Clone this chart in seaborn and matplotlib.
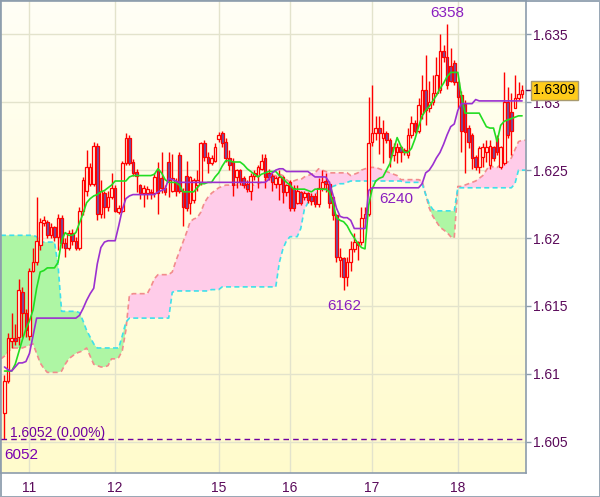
import numpy as np
import pandas as pd
import matplotlib
matplotlib.use("Agg")
import matplotlib.pyplot as plt
import matplotlib.transforms as mtransforms
from matplotlib.colors import LinearSegmentedColormap
import seaborn as sns

# ---------------- data (hourly bars) ----------------
open_ = [1.6071,1.6095,1.6124,1.6126,1.6127,1.6160,1.6145,1.6128,1.6176,1.6182,
         1.6195,1.6211,1.6212,1.6202,1.6208,1.6201,1.6215,1.6196,1.6193,1.6204,
         1.6198,1.6193,1.6220,1.6235,1.6240,1.6240,1.6268,1.6218,1.6233,1.6223,
         1.6230,1.6237,1.6219,1.6220,1.6255,1.6274,1.6256,1.6249,1.6239,1.6233,
         1.6233,1.6233,1.6233,1.6250,1.6244,1.6237,1.6256,1.6235,1.6241,1.6261,
         1.6235,1.6246,1.6226,1.6228,1.6239,1.6241,1.6270,1.6260,1.6255,1.6257,
         1.6273,1.6277,1.6271,1.6259,1.6256,1.6245,1.6250,1.6244,1.6240,1.6235,
         1.6246,1.6246,1.6251,1.6259,1.6248,1.6246,1.6240,1.6240,1.6245,1.6234,
         1.6241,1.6237,1.6226,1.6234,1.6230,1.6233,1.6231,1.6231,1.6225,1.6237,
         1.6242,1.6240,1.6230,1.6217,1.6184,1.6185,1.6171,1.6182,1.6192,1.6195,
         1.6197,1.6215,1.6218,1.6271,1.6277,1.6281,1.6274,1.6277,1.6272,1.6261,
         1.6263,1.6267,1.6265,1.6261,1.6276,1.6285,1.6279,1.6291,1.6309,1.6296,
         1.6300,1.6307,1.6309,1.6338,1.6333,1.6327,1.6329,1.6315,1.6305,1.6299,
         1.6281,1.6276,1.6260,1.6252,1.6260,1.6263,1.6254,1.6267,1.6274,1.6252,
         1.6255,1.6300,1.6293,1.6296,1.6303,1.6306]
high = [1.6099,1.6130,1.6145,1.6137,1.6170,1.6164,1.6148,1.6178,1.6193,1.6230,
        1.6215,1.6216,1.6213,1.6211,1.6209,1.6218,1.6217,1.6200,1.6206,1.6207,
        1.6201,1.6223,1.6245,1.6265,1.6255,1.6271,1.6270,1.6243,1.6235,1.6235,
        1.6248,1.6239,1.6224,1.6257,1.6277,1.6276,1.6258,1.6251,1.6240,1.6239,
        1.6238,1.6236,1.6248,1.6256,1.6263,1.6239,1.6263,1.6262,1.6244,1.6263,
        1.6237,1.6257,1.6246,1.6244,1.6250,1.6271,1.6272,1.6263,1.6261,1.6270,
        1.6278,1.6279,1.6274,1.6265,1.6259,1.6251,1.6251,1.6246,1.6243,1.6248,
        1.6250,1.6254,1.6262,1.6262,1.6251,1.6248,1.6246,1.6250,1.6246,1.6240,
        1.6243,1.6239,1.6239,1.6235,1.6235,1.6234,1.6233,1.6233,1.6244,1.6250,
        1.6248,1.6242,1.6231,1.6218,1.6193,1.6186,1.6186,1.6198,1.6204,1.6198,
        1.6223,1.6223,1.6304,1.6313,1.6290,1.6290,1.6287,1.6279,1.6274,1.6270,
        1.6270,1.6268,1.6266,1.6281,1.6290,1.6287,1.6303,1.6320,1.6335,1.6316,
        1.6320,1.6333,1.6350,1.6342,1.6358,1.6340,1.6331,1.6316,1.6308,1.6302,
        1.6283,1.6277,1.6261,1.6268,1.6270,1.6272,1.6272,1.6268,1.6276,1.6268,
        1.6322,1.6311,1.6307,1.6320,1.6315,1.6313]
low = [1.6052,1.6093,1.6119,1.6121,1.6121,1.6127,1.6127,1.6125,1.6175,1.6180,
       1.6191,1.6209,1.6200,1.6200,1.6198,1.6191,1.6193,1.6186,1.6191,1.6195,
       1.6191,1.6191,1.6217,1.6231,1.6238,1.6238,1.6213,1.6215,1.6215,1.6220,
       1.6229,1.6219,1.6218,1.6219,1.6254,1.6254,1.6246,1.6234,1.6229,1.6223,
       1.6229,1.6229,1.6230,1.6218,1.6233,1.6232,1.6230,1.6234,1.6231,1.6233,
       1.6209,1.6220,1.6218,1.6226,1.6235,1.6239,1.6257,1.6248,1.6254,1.6256,
       1.6271,1.6267,1.6256,1.6250,1.6231,1.6237,1.6239,1.6237,1.6234,1.6228,
       1.6243,1.6237,1.6250,1.6237,1.6243,1.6235,1.6237,1.6228,1.6226,1.6231,
       1.6220,1.6220,1.6225,1.6224,1.6228,1.6226,1.6224,1.6223,1.6223,1.6235,
       1.6234,1.6222,1.6213,1.6182,1.6171,1.6162,1.6165,1.6176,1.6190,1.6184,
       1.6195,1.6212,1.6216,1.6268,1.6272,1.6262,1.6255,1.6270,1.6252,1.6257,
       1.6255,1.6256,1.6261,1.6259,1.6274,1.6277,1.6277,1.6288,1.6283,1.6293,
       1.6298,1.6305,1.6307,1.6330,1.6310,1.6315,1.6313,1.6296,1.6263,1.6248,
       1.6266,1.6251,1.6250,1.6248,1.6252,1.6256,1.6251,1.6257,1.6261,1.6251,
       1.6254,1.6274,1.6261,1.6296,1.6302,1.6303]
close = [1.6095,1.6126,1.6126,1.6124,1.6162,1.6145,1.6132,1.6176,1.6182,1.6198,
         1.6212,1.6213,1.6202,1.6208,1.6201,1.6215,1.6196,1.6193,1.6204,1.6198,
         1.6193,1.6220,1.6243,1.6252,1.6252,1.6268,1.6218,1.6235,1.6223,1.6230,
         1.6237,1.6220,1.6222,1.6255,1.6274,1.6255,1.6248,1.6246,1.6233,1.6237,
         1.6236,1.6234,1.6245,1.6233,1.6237,1.6234,1.6243,1.6244,1.6235,1.6235,
         1.6223,1.6222,1.6245,1.6243,1.6243,1.6270,1.6260,1.6255,1.6259,1.6267,
         1.6276,1.6270,1.6259,1.6254,1.6239,1.6250,1.6241,1.6239,1.6236,1.6246,
         1.6248,1.6252,1.6257,1.6245,1.6245,1.6241,1.6244,1.6245,1.6234,1.6239,
         1.6222,1.6222,1.6235,1.6226,1.6233,1.6228,1.6227,1.6225,1.6237,1.6241,
         1.6240,1.6226,1.6217,1.6186,1.6186,1.6171,1.6182,1.6192,1.6197,1.6197,
         1.6215,1.6218,1.6270,1.6277,1.6281,1.6277,1.6277,1.6272,1.6260,1.6267,
         1.6267,1.6263,1.6263,1.6276,1.6285,1.6279,1.6298,1.6309,1.6294,1.6300,
         1.6307,1.6320,1.6338,1.6333,1.6313,1.6316,1.6315,1.6304,1.6279,1.6278,
         1.6271,1.6259,1.6252,1.6266,1.6267,1.6267,1.6268,1.6259,1.6263,1.6267,
         1.6300,1.6276,1.6279,1.6303,1.6306,1.6309]

tenkan = [1.6102,1.6102,1.6102,1.6107,1.6116,1.6125,1.6133,1.6139,1.6147,1.6163,
          1.6175,1.6176,1.6178,1.6178,1.6178,1.6182,1.6198,1.6204,1.6202,1.6202,
          1.6204,1.6211,1.6218,1.6226,1.6229,1.6231,1.6232,1.6234,1.6235,1.6237,
          1.6239,1.6242,1.6242,1.6242,1.6242,1.6245,1.6246,1.6246,1.6246,1.6246,
          1.6246,1.6246,1.6247,1.6251,1.6248,1.6243,1.6241,1.6241,1.6241,1.6239,
          1.6234,1.6234,1.6234,1.6234,1.6237,1.6240,1.6240,1.6241,1.6241,1.6245,
          1.6248,1.6253,1.6257,1.6257,1.6256,1.6256,1.6256,1.6254,1.6251,1.6249,
          1.6247,1.6245,1.6247,1.6248,1.6249,1.6249,1.6249,1.6246,1.6244,1.6241,
          1.6239,1.6236,1.6236,1.6236,1.6236,1.6235,1.6234,1.6236,1.6236,1.6236,
          1.6236,1.6234,1.6226,1.6215,1.6213,1.6212,1.6209,1.6204,1.6200,1.6196,
          1.6193,1.6192,1.6224,1.6236,1.6242,1.6244,1.6245,1.6250,1.6255,1.6265,
          1.6274,1.6268,1.6263,1.6263,1.6266,1.6273,1.6282,1.6290,1.6294,1.6297,
          1.6301,1.6305,1.6310,1.6314,1.6319,1.6322,1.6322,1.6322,1.6305,1.6292,
          1.6292,1.6292,1.6292,1.6292,1.6287,1.6282,1.6281,1.6281,1.6271,1.6283,
          1.6286,1.6287,1.6288,1.6289,1.6290,1.6290]
kijun = [1.6105,1.6103,1.6102,1.6105,1.6108,1.6108,1.6109,1.6115,1.6128,1.6141,
         1.6141,1.6141,1.6141,1.6141,1.6141,1.6141,1.6141,1.6141,1.6141,1.6141,
         1.6141,1.6143,1.6148,1.6154,1.6159,1.6163,1.6181,1.6193,1.6197,1.6198,
         1.6198,1.6198,1.6209,1.6221,1.6229,1.6231,1.6232,1.6232,1.6232,1.6232,
         1.6232,1.6232,1.6232,1.6234,1.6235,1.6236,1.6244,1.6243,1.6242,1.6241,
         1.6241,1.6241,1.6241,1.6241,1.6241,1.6241,1.6241,1.6241,1.6241,1.6241,
         1.6241,1.6241,1.6241,1.6241,1.6241,1.6241,1.6241,1.6241,1.6241,1.6241,
         1.6241,1.6241,1.6241,1.6241,1.6243,1.6248,1.6250,1.6251,1.6251,1.6249,
         1.6249,1.6249,1.6249,1.6249,1.6249,1.6249,1.6247,1.6245,1.6245,1.6245,
         1.6245,1.6241,1.6232,1.6222,1.6216,1.6215,1.6215,1.6213,1.6207,1.6207,
         1.6207,1.6207,1.6235,1.6237,1.6237,1.6237,1.6237,1.6237,1.6237,1.6237,
         1.6237,1.6237,1.6237,1.6237,1.6237,1.6237,1.6237,1.6240,1.6248,1.6250,
         1.6254,1.6259,1.6263,1.6269,1.6276,1.6282,1.6284,1.6294,1.6299,1.6299,
         1.6299,1.6299,1.6302,1.6301,1.6301,1.6301,1.6301,1.6301,1.6301,1.6301,
         1.6301,1.6301,1.6301,1.6301,1.6301,1.6301]

# cloud spans, first value belongs to bar -1
span_red = [1.6111,1.6113,1.6116,1.6119,1.6119,1.6119,1.6119,1.6120,1.6121,1.6122,
            1.6115,1.6108,1.6104,1.6101,1.6101,1.6101,1.6101,1.6102,1.6107,1.6111,
            1.6113,1.6115,1.6116,1.6117,1.6119,1.6113,1.6107,1.6106,1.6105,1.6105,
            1.6106,1.6111,1.6111,1.6112,1.6117,1.6132,1.6158,1.6159,1.6159,1.6159,
            1.6159,1.6159,1.6164,1.6170,1.6173,1.6173,1.6173,1.6173,1.6175,1.6183,
            1.6190,1.6197,1.6204,1.6212,1.6214,1.6215,1.6219,1.6226,1.6230,1.6233,
            1.6235,1.6237,1.6238,1.6239,1.6239,1.6239,1.6239,1.6239,1.6239,1.6239,
            1.6239,1.6239,1.6240,1.6241,1.6243,1.6244,1.6246,1.6246,1.6247,1.6246,
            1.6243,1.6241,1.6242,1.6243,1.6243,1.6245,1.6246,1.6247,1.6248,1.6251,
            1.6250,1.6249,1.6248,1.6248,1.6248,1.6248,1.6248,1.6248,1.6246,1.6247,
            1.6248,1.6250,1.6251,1.6252,1.6252,1.6252,1.6251,1.6250,1.6249,1.6248,
            1.6247,1.6246,1.6243,1.6243,1.6243,1.6243,1.6243,1.6243,1.6242,1.6232,
            1.6222,1.6216,1.6212,1.6208,1.6206,1.6204,1.6201,1.6200,1.6238,1.6238,
            1.6239,1.6240,1.6241,1.6242,1.6244,1.6246,1.6250,1.6254,1.6252,1.6252,
            1.6254,1.6255,1.6256,1.6259,1.6265,1.6271,1.6272,1.6272]
span_cyan = [1.6202,1.6202,1.6202,1.6202,1.6202,1.6202,1.6202,1.6202,1.6202,1.6202,
             1.6201,1.6197,1.6197,1.6197,1.6197,1.6197,1.6180,1.6146,1.6146,1.6146,
             1.6146,1.6146,1.6145,1.6139,1.6132,1.6127,1.6122,1.6119,1.6119,1.6119,
             1.6119,1.6119,1.6119,1.6119,1.6128,1.6138,1.6141,1.6141,1.6141,1.6141,
             1.6141,1.6141,1.6141,1.6141,1.6141,1.6141,1.6141,1.6141,1.6160,1.6161,
             1.6161,1.6161,1.6161,1.6161,1.6161,1.6161,1.6161,1.6161,1.6161,1.6162,
             1.6162,1.6162,1.6164,1.6164,1.6164,1.6164,1.6164,1.6164,1.6164,1.6164,
             1.6164,1.6164,1.6164,1.6164,1.6164,1.6164,1.6164,1.6164,1.6182,1.6192,
             1.6198,1.6201,1.6201,1.6201,1.6207,1.6221,1.6226,1.6229,1.6232,1.6234,
             1.6235,1.6236,1.6237,1.6238,1.6239,1.6240,1.6240,1.6241,1.6242,1.6242,
             1.6242,1.6242,1.6242,1.6242,1.6242,1.6242,1.6242,1.6242,1.6242,1.6242,
             1.6242,1.6242,1.6242,1.6241,1.6241,1.6241,1.6241,1.6241,1.6240,1.6232,
             1.6225,1.6221,1.6220,1.6220,1.6220,1.6220,1.6220,1.6220,1.6237,1.6237,
             1.6237,1.6237,1.6237,1.6237,1.6237,1.6237,1.6237,1.6237,1.6237,1.6237,
             1.6237,1.6237,1.6237,1.6237,1.6240,1.6250,1.6250,1.6250]

day_ticks = [7, 31, 60, 80, 103, 127]
day_labels = ["11", "12", "15", "16", "17", "18"]
price_ticks = [1.605, 1.61, 1.615, 1.62, 1.625, 1.63, 1.635]
price_labels = ["1.605", "1.61", "1.615", "1.62", "1.625", "1.63", "1.635"]
ref_price = 1.6052
ref_label = "1.6052 (0.00%)"
ref_short = "6052"
last_price = 1.6309
last_label = "1.6309"
marks = [("6358", 124.0, 1.63661), ("6240", 109.7, 1.62285), ("6162", 95.1, 1.61496)]

# ---------------- style ----------------
sns.set_style("white")
plt.rcParams["font.family"] = ["Liberation Sans", "DejaVu Sans"]

TXT = "#5a0a5a"
FRAME = "#8c9cac"

fig = plt.figure(figsize=(6.0, 4.97), dpi=100, facecolor="white",
                 edgecolor="#9aa8b6", linewidth=2)
ax = fig.add_axes([1 / 600, 24 / 497, 525 / 600, 472 / 497])

XL = (-0.98, 146.1)
YL = (1.60269, 1.63746)

# gradient background
grad = np.linspace(0, 1, 256).reshape(-1, 1)
bg = LinearSegmentedColormap.from_list("bg", ["#fffff6", "#fffbcc"])
ax.imshow(grad, extent=[XL[0], XL[1], YL[0], YL[1]], origin="upper",
          aspect="auto", cmap=bg, zorder=0, interpolation="bilinear")

# cloud
cx = np.arange(len(span_red)) - 1
r = np.array(span_red)
cy = np.array(span_cyan)
ax.fill_between(cx, r, cy, where=r >= cy, interpolate=True,
                color="#ffcce9", lw=0, zorder=1)
ax.fill_between(cx, r, cy, where=r < cy, interpolate=True,
                color="#aef6a4", lw=0, zorder=1)
ax.plot(cx, r, color="#f28c8c", ls=(0, (3, 2)), lw=1.2, zorder=2)
ax.plot(cx, cy, color="#3fe0ea", ls=(0, (3, 2)), lw=1.2, zorder=2)

# candles
bars = np.arange(len(close))
o = np.array(open_); h = np.array(high); l = np.array(low); c = np.array(close)
up = c >= o
ax.vlines(bars, l, h, color="#ff0000", lw=1.0, zorder=3)
bottom = np.minimum(o, c)
height = np.maximum(np.abs(c - o), 0.00004)
faces = np.where(up, "#fffde6", "#7050a0")
ax.bar(bars, height, bottom=bottom, width=0.74, color=faces,
       edgecolor="#ff0000", linewidth=0.9, zorder=4)

# tenkan / kijun
df = pd.DataFrame({"bar": bars, "tenkan": tenkan, "kijun": kijun})
sns.lineplot(data=df, x="bar", y="tenkan", ax=ax, color="#22dd22", lw=1.2, zorder=6)
sns.lineplot(data=df, x="bar", y="kijun", ax=ax, color="#9b30d0", lw=1.2, zorder=6)

# reference line
ax.axhline(ref_price, color="#7000a0", ls=(0, (4, 3)), lw=1.0, zorder=5)
trans = mtransforms.blended_transform_factory(ax.transAxes, ax.transData)
ax.text(0.017, 1.60567, ref_label, transform=trans, ha="left", va="center",
        fontsize=10, color="#7000a0", zorder=7)
ax.text(0.006, 1.60398, ref_short, transform=trans, ha="left", va="center",
        fontsize=11, color="#7a00b0", zorder=7)

for txt, xi, yv in marks:
    ax.text(xi, yv, txt, ha="center", va="center", fontsize=11,
            color="#8a1fc0", zorder=7)

# axes
ax.set_xlim(*XL)
ax.set_ylim(*YL)
ax.set_xlabel("")
ax.set_ylabel("")
ax.yaxis.tick_right()
ax.set_yticks(price_ticks)
ax.set_yticklabels(price_labels)
ax.set_xticks(day_ticks)
ax.set_xticklabels(day_labels)
ax.tick_params(axis="y", direction="out", length=3.6, width=1, color=FRAME,
               labelcolor=TXT, labelsize=10, pad=1.5, right=True, left=False)
ax.tick_params(axis="x", direction="out", length=3.0, width=1, color=FRAME,
               labelcolor=TXT, labelsize=10, pad=2.5)
ax.grid(True, color="#e3e3cc", lw=1)
ax.set_axisbelow(True)
for s in ax.spines.values():
    s.set_color(FRAME)
    s.set_linewidth(1.2)
    s.set_visible(True)

# last price box
ax.plot([1.0, 1.012], [last_price, last_price], transform=trans, color=TXT,
        lw=1, clip_on=False, zorder=9)
ax.text(1.0135, last_price, last_label, transform=trans, ha="left", va="center",
        fontsize=10, color="black", zorder=10, clip_on=False,
        bbox=dict(boxstyle="square,pad=0.18", fc="#ffcc1a", ec="#a89a70", lw=1))

fig.savefig("out.png", dpi=100, facecolor="white", edgecolor=fig.get_edgecolor())
